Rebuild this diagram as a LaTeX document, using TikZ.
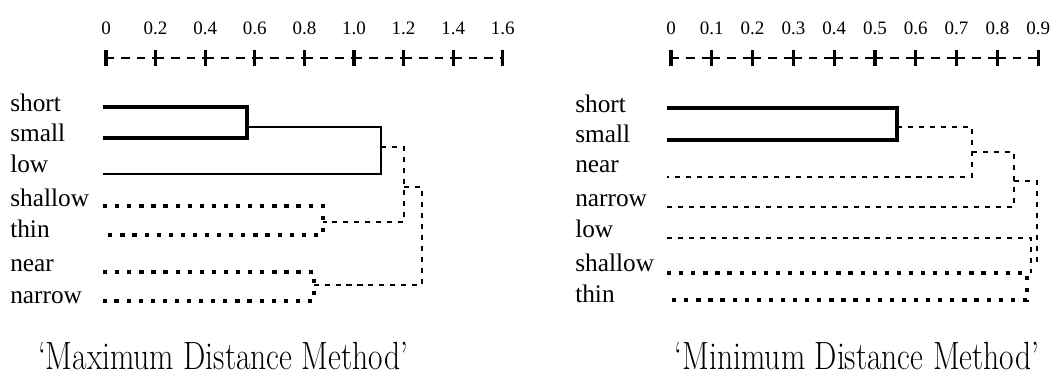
\documentclass[tikz,border=0pt]{standalone}
\usepackage{fontspec}
\newfontfamily\labelfont{Liberation Serif}
\tikzset{
  heavy/.style = {line width=3.5pt},
  medium/.style = {line width=2pt},
  thindash/.style = {line width=1.5pt, dash pattern=on 3.6pt off 4.2pt},
  dots/.style = {line width=3pt, dash pattern=on 3pt off 5.6pt},
  axistick/.style = {line width=2.2pt},
  axisdash/.style = {line width=1.7pt, dash pattern=on 6pt off 5pt},
  word/.style = {anchor=base west, inner sep=0pt, font=\labelfont\fontsize{18}{21}\selectfont},
  ticklabel/.style = {inner sep=0pt, font=\labelfont\fontsize{13.5}{15}\selectfont},
  caption/.style = {anchor=base, inner sep=0pt},
}
\begin{document}
\begin{tikzpicture}[x=0.025cm, y=-0.025cm]
    \useasboundingbox (0,0) rectangle (1052,385);
    % scale of the left tree, 0 to 1.6
    \foreach \v [count=\i from 0] in {0,0.2,0.4,0.6,0.8,1.0,1.2,1.4,1.6} {
        \node[ticklabel] (lt\i) at (106+49.6*\i,28) {\v};
        \draw[axistick] (106+49.6*\i,50) -- (106+49.6*\i,66);
    }
    \foreach \i in {0,...,7}
        \draw[axisdash] (106+49.6*\i,58) -- (155.6+49.6*\i,58);
    % scale of the right tree, 0 to 0.9
    \foreach \v [count=\i from 0] in {0,0.1,0.2,0.3,0.4,0.5,0.6,0.7,0.8,0.9} {
        \node[ticklabel] (rt\i) at (671+40.8*\i,28) {\v};
        \draw[axistick] (671+40.8*\i,50) -- (671+40.8*\i,66);
    }
    \foreach \i in {0,...,8}
        \draw[axisdash] (671+40.8*\i,58) -- (711.8+40.8*\i,58);
    % words
    \foreach \w/\b in {short/112,small/142,low/173,shallow/207,thin/238,near/272,narrow/304}
        \node[word] (l-\w) at (10,\b) {\w};
    \foreach \w/\b in {short/113,small/143,near/173,narrow/207,low/238,shallow/272,thin/303}
        \node[word] (r-\w) at (575,\b) {\w};
    % left tree
    \draw[heavy] (103,107) -- (247,107) -- (247,138) -- (103,138);
    \draw[medium] (247,127) -- (381,127) -- (381,174) -- (103,174);
    \draw[dots] (103,206) -- (323,206) -- (323,235) -- (103,235);
    \draw[dots] (103,272) -- (314,272) -- (314,301) -- (103,301);
    \draw[thindash] (381,147) -- (404,147) -- (404,222) -- (323,222);
    \draw[thindash] (404,187) -- (422,187) -- (422,285) -- (314,285);
    % right tree
    \draw[heavy] (667,108) -- (897,108) -- (897,140) -- (667,140);
    \draw[thindash] (897,127) -- (972,127) -- (972,177) -- (667,177);
    \draw[thindash] (972,152) -- (1014,152) -- (1014,207) -- (667,207);
    \draw[thindash] (1014,181) -- (1037,181) -- (1037,262) -- (1031,262);
    \draw[thindash] (667,238) -- (1031,238) -- (1031,273);
    \draw[dots] (667,273) -- (1027,273) -- (1027,300) -- (667,300);
    % captions
    \node[caption] (capmax) at (223,370) {\scalebox{0.8}[1]{\fontsize{28}{32}\selectfont `Maximum Distance Method'}};
    \node[caption] (capmin) at (857,370) {\scalebox{0.8}[1]{\fontsize{28}{32}\selectfont `Minimum Distance Method'}};
\end{tikzpicture}
\end{document}
